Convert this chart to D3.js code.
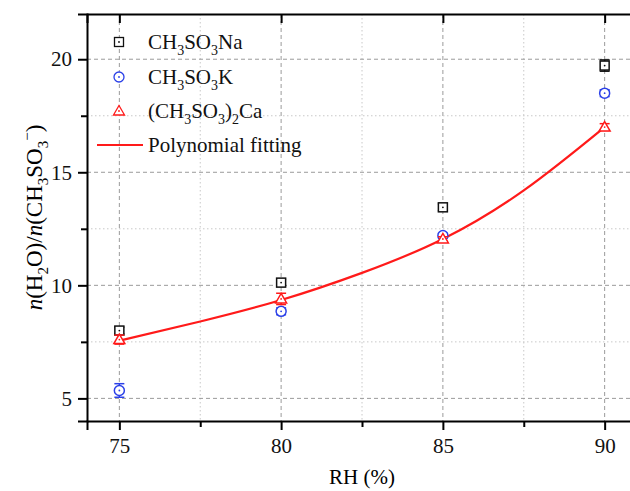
<!DOCTYPE html>
<html>
<head>
<meta charset="utf-8">
<script src="https://cdn.jsdelivr.net/npm/d3@7"></script>
<style>
  body { margin: 0; background: #fff; }
  svg { display: block; font-family: "Liberation Serif", "Times New Roman", serif; }
</style>
</head>
<body>
<div id="chart"></div>
<script>
// data
const rh = [75, 80, 85, 90];
const naValues = [8.0, 10.12, 13.45, 19.72];
const naErrors = [0.15, 0.15, 0.15, 0.25];
const kValues = [5.35, 8.85, 12.2, 18.5];
const kErrors = [0.3, 0.15, 0.1, 0.15];
const caValues = [7.6, 9.4, 12.05, 17.0];
const caErrors = [0.2, 0.25, 0.1, 0.15];
const fitX = [75, 77.5, 80, 82.5, 85, 87.5, 90];
const fitY = [7.55, 8.4, 9.35, 10.55, 12.05, 14.2, 17.0];
const xTicks = [75, 80, 85, 90];
const yTicks = [5, 10, 15, 20];

const W = 630, H = 491;
const margin = { top: 14, right: -7, bottom: 70, left: 87 };
const width = W - margin.left - margin.right,
      height = H - margin.top - margin.bottom;

const svg = d3.select("#chart").append("svg")
    .attr("width", W)
    .attr("height", H);

const g = svg.append("g")
    .attr("transform", `translate(${margin.left},${margin.top})`);

const x = d3.scaleLinear().domain([74, 91]).range([0, width]);
const y = d3.scaleLinear().domain([4, 22]).range([height, 0]);

const blue = "#2b40e8", red = "#ff1a1a";

// grid
const xMinor = d3.range(77.5, 91, 5);
const yMinor = d3.range(7.5, 22, 5);
g.append("g").selectAll("line").data(xTicks).enter().append("line")
    .attr("x1", d => x(d)).attr("x2", d => x(d)).attr("y1", 0).attr("y2", height)
    .attr("stroke", "#9a9a9a").attr("stroke-dasharray", "4,3");
g.append("g").selectAll("line").data(xMinor).enter().append("line")
    .attr("x1", d => x(d)).attr("x2", d => x(d)).attr("y1", 0).attr("y2", height)
    .attr("stroke", "#c8c8c8").attr("stroke-dasharray", "1.5,2.5");
g.append("g").selectAll("line").data(yTicks).enter().append("line")
    .attr("y1", d => y(d)).attr("y2", d => y(d)).attr("x1", 0).attr("x2", width)
    .attr("stroke", "#9a9a9a").attr("stroke-dasharray", "4,3");
g.append("g").selectAll("line").data(yMinor).enter().append("line")
    .attr("y1", d => y(d)).attr("y2", d => y(d)).attr("x1", 0).attr("x2", width)
    .attr("stroke", "#c8c8c8").attr("stroke-dasharray", "1.5,2.5");

// fitted curve
g.append("path")
    .datum(fitX.map((d, i) => [d, fitY[i]]))
    .attr("fill", "none")
    .attr("stroke", red)
    .attr("stroke-width", 2.2)
    .attr("d", d3.line().x(d => x(d[0])).y(d => y(d[1])).curve(d3.curveNatural));

function drawSeries(values, errors, color, shape) {
    const s = g.append("g").attr("stroke", color).attr("fill", "none").attr("stroke-width", 1.5);
    values.forEach((v, i) => {
        const cx = x(rh[i]), top = y(v + errors[i]), bot = y(v - errors[i]);
        s.append("line").attr("x1", cx).attr("x2", cx).attr("y1", top).attr("y2", bot);
        s.append("line").attr("x1", cx - 5).attr("x2", cx + 5).attr("y1", top).attr("y2", top);
        s.append("line").attr("x1", cx - 5).attr("x2", cx + 5).attr("y1", bot).attr("y2", bot);
        marker(s, cx, y(v), shape, color);
    });
}

function marker(sel, cx, cy, shape, color) {
    if (shape === "square") {
        sel.append("rect").attr("x", cx - 4.5).attr("y", cy - 4.5).attr("width", 9).attr("height", 9)
            .attr("fill", "#fff");
    } else if (shape === "circle") {
        sel.append("circle").attr("cx", cx).attr("cy", cy).attr("r", 5).attr("fill", "#fff");
    } else {
        sel.append("path").attr("d", `M${cx},${cy - 5.5}L${cx + 5.5},${cy + 4}L${cx - 5.5},${cy + 4}Z`)
            .attr("fill", "#fff");
    }
    sel.append("circle").attr("cx", cx).attr("cy", cy).attr("r", 0.9).attr("fill", color).attr("stroke", "none");
}

drawSeries(naValues, naErrors, "#111", "square");
drawSeries(kValues, kErrors, blue, "circle");
drawSeries(caValues, caErrors, red, "triangle");

// axes
const axisBottom = g.append("g")
    .attr("transform", `translate(0,${height})`)
    .call(d3.axisBottom(x).tickValues(xTicks).tickSize(9).tickPadding(8).tickFormat(d3.format("d")));
g.append("g")
    .attr("transform", `translate(0,${height})`)
    .call(d3.axisBottom(x).tickValues(xMinor).tickSize(6).tickFormat(""))
    .select(".domain").remove();
const axisLeft = g.append("g")
    .call(d3.axisLeft(y).tickValues(yTicks).tickSize(9).tickPadding(6).tickFormat(d3.format("d")));
g.append("g")
    .call(d3.axisLeft(y).tickValues(yMinor).tickSize(6).tickFormat(""))
    .select(".domain").remove();
g.append("g")
    .call(d3.axisTop(x).tickValues(xTicks).tickSize(-9).tickFormat(""));

g.selectAll(".domain").attr("stroke", "#000").attr("stroke-width", 2);
g.selectAll(".tick line").attr("stroke", "#000").attr("stroke-width", 2);
g.selectAll(".tick text").attr("font-size", 21).attr("font-family", "Liberation Serif").attr("fill", "#111");

// axis titles
svg.append("text")
    .attr("x", margin.left + x(82.5))
    .attr("y", 484)
    .attr("text-anchor", "middle")
    .attr("font-size", 21)
    .text("RH (%)");

const yl = svg.append("text")
    .attr("transform", `translate(42,${margin.top + height / 2}) rotate(-90)`)
    .attr("text-anchor", "middle")
    .attr("font-size", 23);
yl.append("tspan").attr("font-style", "italic").text("n");
yl.append("tspan").text("(H");
yl.append("tspan").attr("font-size", 15).attr("dy", 6).text("2");
yl.append("tspan").attr("dy", -6).text("O)/");
yl.append("tspan").attr("font-style", "italic").text("n");
yl.append("tspan").text("(CH");
yl.append("tspan").attr("font-size", 15).attr("dy", 6).text("3");
yl.append("tspan").attr("dy", -6).text("SO");
yl.append("tspan").attr("font-size", 15).attr("dy", 6).text("3");
yl.append("tspan").attr("font-size", 15).attr("dy", -16).text("−");
yl.append("tspan").attr("dy", 10).text(")");

// legend
const legend = svg.append("g").attr("font-size", 21);
const legendRows = [
    { parts: [["CH"], ["3", 1], ["SO"], ["3", 1], ["Na"]], color: "#111", shape: "square", y: 42 },
    { parts: [["CH"], ["3", 1], ["SO"], ["3", 1], ["K"]], color: blue, shape: "circle", y: 77 },
    { parts: [["(CH"], ["3", 1], ["SO"], ["3", 1], [")"], ["2", 1], ["Ca"]], color: red, shape: "triangle", y: 111 }
];
legendRows.forEach(r => {
    const m = legend.append("g").attr("stroke", r.color).attr("fill", "none").attr("stroke-width", 1.3);
    marker(m, 119, r.y, r.shape, r.color);
    const t = legend.append("text").attr("x", 148).attr("y", r.y + 7).attr("fill", "#111");
    let sub = false;
    r.parts.forEach(p => {
        const ts = t.append("tspan").text(p[0]);
        if (p[1] && !sub) { ts.attr("font-size", 14).attr("dy", 6); sub = true; }
        else if (!p[1] && sub) { ts.attr("dy", -6); sub = false; }
        else if (p[1]) ts.attr("font-size", 14);
    });
});
legend.append("line").attr("x1", 97).attr("x2", 143).attr("y1", 145).attr("y2", 145)
    .attr("stroke", red).attr("stroke-width", 2.2);
legend.append("text").attr("x", 148).attr("y", 152).attr("fill", "#111").text("Polynomial fitting");
</script>
</body>
</html>
